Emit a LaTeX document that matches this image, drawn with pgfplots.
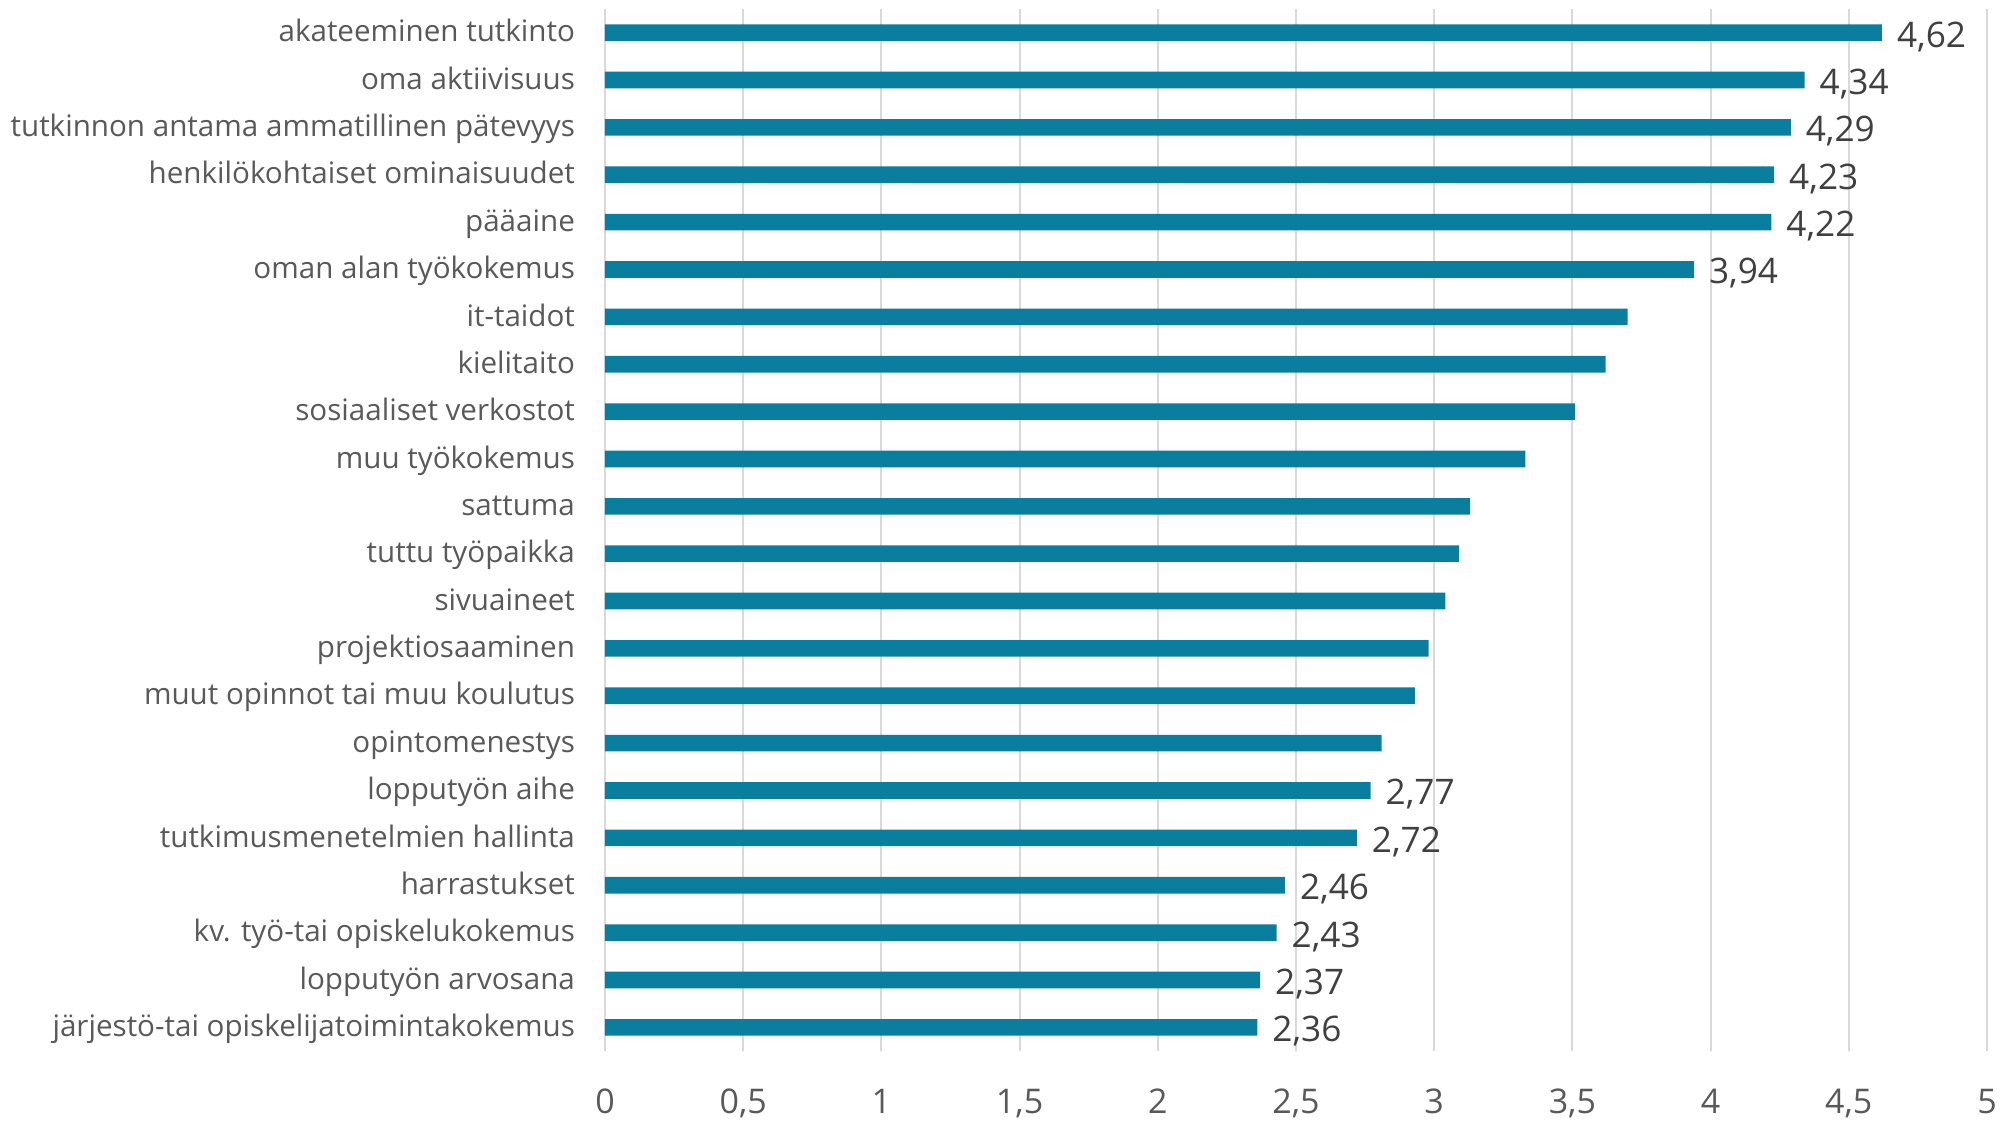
\documentclass[border=0pt]{standalone}
\usepackage{fontspec}
\setmainfont{Open Sans}
\usepackage{pgfplots}
\pgfplotsset{compat=1.18}
\definecolor{barc}{HTML}{0A7E9E}
\definecolor{labc}{HTML}{595959}
\definecolor{datc}{HTML}{404040}
\definecolor{gridc}{HTML}{D9D9D9}
\begin{document}
\begin{tikzpicture}
\useasboundingbox (-302.5pt,-35.5pt) rectangle (703pt,525.5pt);
\begin{axis}[
  at={(0pt,0pt)}, anchor=south west,
  width=691pt, height=521pt, scale only axis,
  xmin=0, xmax=5, ymin=-0.5, ymax=21.5,
  y dir=reverse,
  xtick={0,0.5,...,5},
  ytick={0,...,21},
  yticklabels={akateeminen tutkinto,oma aktiivisuus,tutkinnon antama ammatillinen pätevyys,henkilökohtaiset ominaisuudet,pääaine,oman alan työkokemus,it-taidot,kielitaito,sosiaaliset verkostot,muu työkokemus,sattuma,tuttu työpaikka,sivuaineet,projektiosaaminen,muut opinnot tai muu koulutus,opintomenestys,lopputyön aihe,tutkimusmenetelmien hallinta,harrastukset,kv. työ-tai opiskelukokemus,lopputyön arvosana,järjestö-tai opiskelijatoimintakokemus},
  xmajorgrids, grid style={gridc, line width=1pt},
  axis line style={draw=none},
  major tick length=0pt,
  /pgf/number format/.cd, use comma, assume math mode=true, /pgfplots/.cd,
  xticklabel style={font=\fontsize{17}{20}\selectfont, text=labc, yshift=-15.5pt},
  yticklabel style={font=\fontsize{14.8}{17}\selectfont, text=labc, anchor=base east, xshift=-11.5pt, yshift=-4.6pt},
  xbar, bar width=8.3pt, bar shift=0pt,
]
\addplot[fill=barc, draw=none] coordinates {
(4.62,0) (4.34,1) (4.29,2) (4.23,3) (4.22,4) (3.94,5) (3.70,6) (3.62,7) (3.51,8) (3.33,9) (3.13,10) (3.09,11) (3.04,12) (2.98,13) (2.93,14) (2.81,15) (2.77,16) (2.72,17) (2.46,18) (2.43,19) (2.37,20) (2.36,21)
};
\addplot[draw=none, fill=none,
  nodes near coords,
  nodes near coords style={font=\fontsize{17.6}{20}\selectfont, text=datc, xshift=4pt, yshift=-2pt,
    /pgf/number format/.cd, use comma, fixed, fixed zerofill, precision=2, assume math mode=true},
] coordinates {
(4.62,0) (4.34,1) (4.29,2) (4.23,3) (4.22,4) (3.94,5) (2.77,16) (2.72,17) (2.46,18) (2.43,19) (2.37,20) (2.36,21)
};
\end{axis}
\end{tikzpicture}
\end{document}
